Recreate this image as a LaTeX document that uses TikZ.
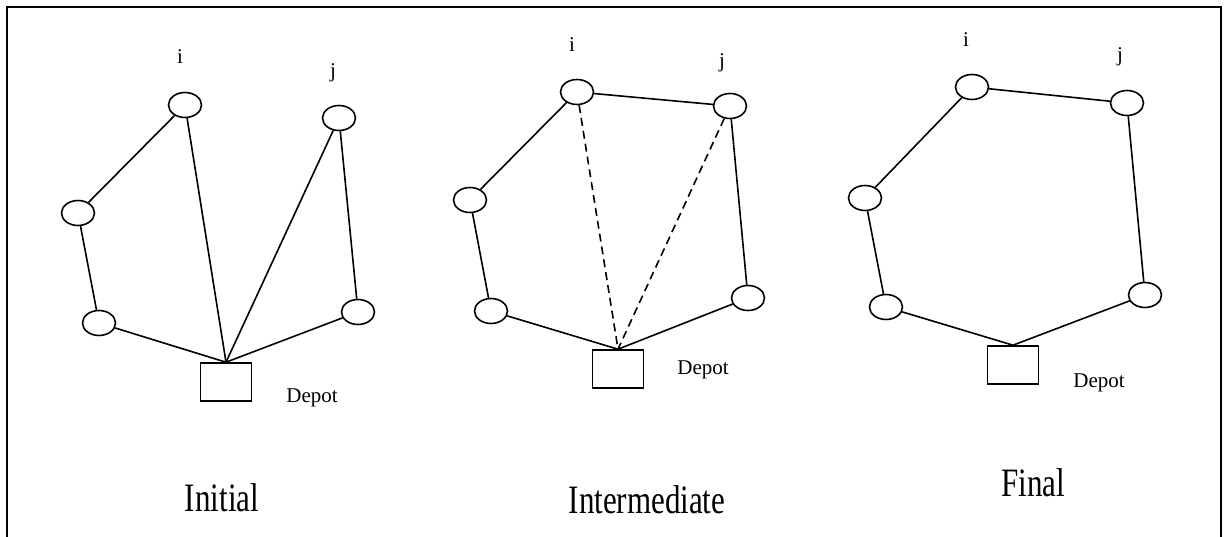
\documentclass[tikz,border=0pt]{standalone}
\usepackage{fontspec}
\setmainfont{Liberation Serif}
\usetikzlibrary{shapes.geometric}
\begin{document}
\begin{tikzpicture}[x=1pt,y=-1pt,
  cust/.style={draw, ellipse, line width=1.6pt, minimum width=33pt, minimum height=25pt, inner sep=0pt},
  depotbox/.style={draw, rectangle, line width=1.6pt, minimum width=51pt, minimum height=38pt, inner sep=0pt},
  route/.style={line width=1.6pt},
  newroute/.style={line width=1.6pt, dash pattern=on 8pt off 5pt},
  lab/.style={font=\fontsize{21}{23}\selectfont, inner sep=0pt},
  deplab/.style={font=\fontsize{21}{23}\selectfont, inner sep=0pt},
  title/.style={font=\fontsize{31}{33}\selectfont, inner sep=0pt}]
\useasboundingbox (0,0) rectangle (1224,537);
\fill[white] (0,0) rectangle (1224,537);
\draw[line width=2pt] (7,537) -- (7,7) -- (1221,7) -- (1221,537);

% Panel 1: Initial
\node[cust] (ai) at (185,105) {};
\node[cust] (aj) at (339,118) {};
\node[cust] (au) at (78,213) {};
\node[cust] (al) at (99,323) {};
\node[cust] (ar) at (358,312) {};
\node[depotbox] (ad) at (226,382) {};
\node[lab] (ail) at (180,57) {i};
\node[lab] (ajl) at (333,73) {j};
\node[deplab] (adl) at (312,398) {Depot};
\node[title] (at) at (222,498) {\scalebox{1}[1.3]{Initial}};
\draw[route] (au) -- (ai);
\draw[route] (au) -- (al);
\draw[route] (al) -- (ad.north);
\draw[route] (ai) -- (ad.north);
\draw[route] (aj) -- (ad.north);
\draw[route] (aj) -- (ar);
\draw[route] (ar) -- (ad.north);

% Panel 2: Intermediate
\node[cust] (bi) at (577,92) {};
\node[cust] (bj) at (730,106) {};
\node[cust] (bu) at (470,200) {};
\node[cust] (bl) at (491,311) {};
\node[cust] (br) at (748,298) {};
\node[depotbox] (bd) at (618,369) {};
\node[lab] (bil) at (572,45) {i};
\node[lab] (bjl) at (722,63) {j};
\node[deplab] (bdl) at (703,370) {Depot};
\node[title] (bt) at (647,500) {\scalebox{1}[1.3]{Intermediate}};
\draw[route] (bu) -- (bi);
\draw[route] (bi) -- (bj);
\draw[route] (bu) -- (bl);
\draw[route] (bl) -- (bd.north);
\draw[route] (bj) -- (br);
\draw[route] (br) -- (bd.north);
\draw[newroute] (bi) -- (bd.north);
\draw[newroute] (bj) -- (bd.north);

% Panel 3: Final
\node[cust] (ci) at (972,87) {};
\node[cust] (cj) at (1127,103) {};
\node[cust] (cu) at (865,198) {};
\node[cust] (cl) at (886,307) {};
\node[cust] (cr) at (1145,295) {};
\node[depotbox] (cd) at (1013,365) {};
\node[lab] (cil) at (966,40) {i};
\node[lab] (cjl) at (1120,57) {j};
\node[deplab] (cdl) at (1099,383) {Depot};
\node[title] (ct) at (1033,483) {\scalebox{1}[1.3]{Final}};
\draw[route] (cu) -- (ci);
\draw[route] (ci) -- (cj);
\draw[route] (cu) -- (cl);
\draw[route] (cl) -- (cd.north);
\draw[route] (cj) -- (cr);
\draw[route] (cr) -- (cd.north);
\end{tikzpicture}
\end{document}
